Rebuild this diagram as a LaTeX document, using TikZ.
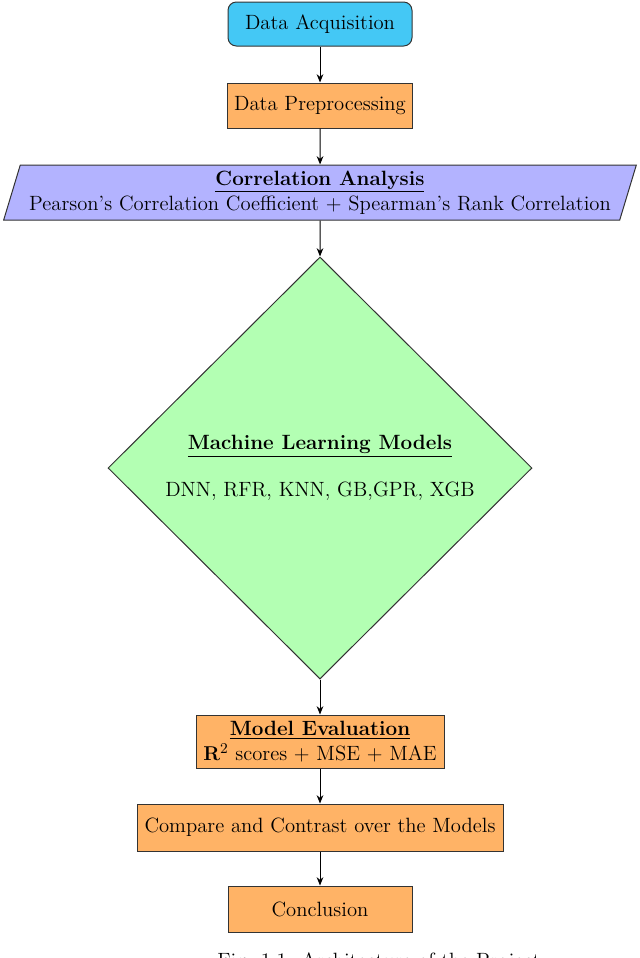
\documentclass[tikz,border=0pt]{standalone}
\usetikzlibrary{shapes.geometric,arrows.meta}
\definecolor{acqc}{RGB}{68,200,245}
\definecolor{procc}{RGB}{255,179,102}
\definecolor{corrc}{RGB}{179,179,255}
\definecolor{mlc}{RGB}{179,255,179}
\begin{document}
\begin{tikzpicture}[x=0.6pt,y=-0.6pt,
  font=\fontsize{12.4}{15}\selectfont,
  box/.style={draw=black!80, line width=0.6pt, align=center, inner sep=2pt},
  procbox/.style={box, fill=procc},
  arr/.style={-{Stealth[length=5pt,width=4pt]}, line width=0.6pt}]
\useasboundingbox (0,0) rectangle (640,958);
\node[box, fill=acqc, rounded corners=5pt, minimum width=110.4pt, minimum height=26.4pt] (acq) at (320,24) {Data Acquisition};
\node[procbox, minimum width=111pt, minimum height=27pt] (pre) at (320,105.5) {Data Preprocessing};
\node[box, fill=corrc, trapezium, trapezium left angle=72, trapezium right angle=108, trapezium stretches=true, minimum width=381.6pt, minimum height=33pt] (corr) at (320,192.5) {\underline{\textbf{Correlation Analysis}}\\Pearson's Correlation Coefficient + Spearman's Rank Correlation};
\node[box, fill=mlc, diamond, inner sep=0pt, minimum width=254.4pt, minimum height=253.2pt] (ml) at (320,468) {\raisebox{5.4pt}{\begin{tabular}{@{}c@{}}\underline{\textbf{Machine Learning Models}}\\[13pt]DNN, RFR, KNN, GB,GPR, XGB\end{tabular}}};
\node[procbox, minimum width=148.8pt, minimum height=31.8pt] (eval) at (320,741.5) {\underline{\textbf{Model Evaluation}}\\$\mathbf{R}^2$ scores + MSE + MAE};
\node[procbox, minimum width=219.6pt, minimum height=28.2pt] (comp) at (320,827.5) {Compare and Contrast over the Models};
\node[procbox, minimum width=110.4pt, minimum height=27.6pt] (conc) at (320,909) {Conclusion};
\node[anchor=base west, inner sep=0pt] (cap) at (217,967) {Fig. 1.1: Architecture of the Project};
\draw[arr] (acq) -- (pre);
\draw[arr] (pre) -- (corr);
\draw[arr] (corr) -- (ml);
\draw[arr] (ml) -- (eval);
\draw[arr] (eval) -- (comp);
\draw[arr] (comp) -- (conc);
\end{tikzpicture}
\end{document}
